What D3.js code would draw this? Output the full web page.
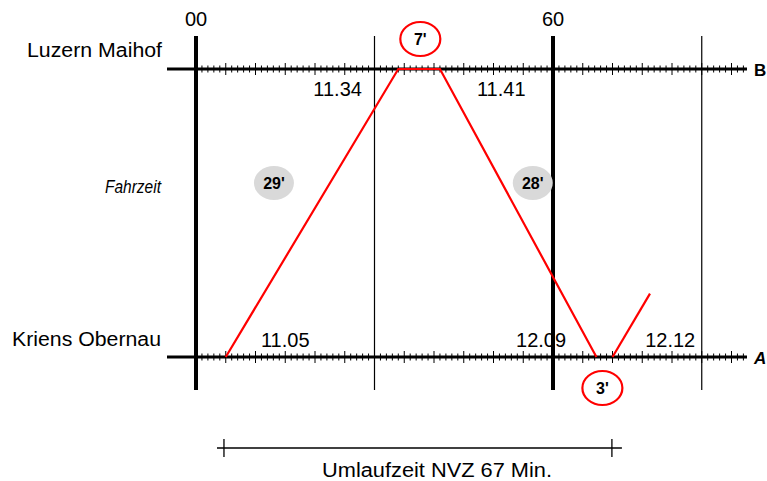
<!DOCTYPE html>
<meta charset="utf-8">
<style>
body { margin: 0; background: #fff; }
svg { font-family: Arial, "Liberation Sans", sans-serif; }
.trip { fill: none; stroke: #ff0000; stroke-width: 2.2px; stroke-linejoin: miter; }
</style>
<svg width="767" height="481"></svg>
<script src="https://cdn.jsdelivr.net/npm/d3@7"></script>
<script>

// stations (0 = A bottom, 1 = B top)
var stations = ["Kriens Obernau", "Luzern Maihof"];
var stationCodes = ["A", "B"];

// minute grid
var hourLabels = ["00", "60"];
var hourMinutes = [0, 60];
var gridMinutes = [0, 30, 60, 85];
var gridThick = [true, false, true, false];

// vehicle run: minutes after 11.00 and station position, one list per drawn stretch
var tripMinutes = [[5, 34, 41, 67.3], [70, 76.3]];
var tripStation = [[0, 1, 1, 0], [0, 0.22]];

// departure / arrival time labels
var timeTexts = ["11.05", "11.34", "11.41", "12.09", "12.12"];
var timeMinutes = [15, 23.8, 51.3, 58, 79.7];
var timeStation = [0, 1, 1, 0, 0];

// travel times (grey) and layovers (red rings)
var runTexts = ["29'", "28'"];
var runMinutes = [13.1, 56.6];
var layoverTexts = ["7'", "3'"];
var layoverMinutes = [37.7, 68.3];
var layoverStation = [1, 0];

// cycle time bar
var cycleFrom = 4.7, cycleTo = 69.9;
var cycleText = "Umlaufzeit NVZ 67 Min.";

var svg = d3.select("svg");

var x = d3.scaleLinear().domain([0, 60]).range([196, 553]);
var y = d3.scaleLinear().domain([0, 1]).range([357, 69]);

// vertical grid
svg.selectAll(".grid")
    .data(gridMinutes)
    .enter().append("line")
    .attr("x1", function(d) { return x(d); })
    .attr("x2", function(d) { return x(d); })
    .attr("y1", 36)
    .attr("y2", 390)
    .attr("stroke", "#000")
    .attr("stroke-width", function(d, i) { return gridThick[i] ? 4 : 1.2; });

svg.selectAll(".hour")
    .data(hourLabels)
    .enter().append("text")
    .attr("x", function(d, i) { return x(hourMinutes[i]); })
    .attr("y", 26)
    .attr("text-anchor", "middle")
    .attr("font-size", 20)
    .text(function(d) { return d; });

// station axes with minute ticks
var tickMinutes = d3.range(0, 93);
[0, 1].forEach(function(s) {
    var g = svg.append("g");
    g.append("line")
        .attr("x1", 167).attr("x2", 747)
        .attr("y1", y(s)).attr("y2", y(s))
        .attr("stroke", "#000").attr("stroke-width", 3);
    g.selectAll("line.tick")
        .data(tickMinutes)
        .enter().append("line")
        .attr("class", "tick")
        .attr("x1", function(d) { return x(d); })
        .attr("x2", function(d) { return x(d); })
        .attr("y1", function(d) { return y(s) - (d % 5 === 0 ? 6 : 3.5); })
        .attr("y2", function(d) { return y(s) + (d % 5 === 0 ? 6 : 3.5); })
        .attr("stroke", "#000")
        .attr("stroke-width", 1);
    g.append("text")
        .attr("x", 754)
        .attr("y", y(s) + 7)
        .attr("font-size", 17)
        .attr("font-weight", "bold")
        .attr("font-style", s === 0 ? "italic" : "normal")
        .text(stationCodes[s]);
});

// station names
svg.append("text")
    .attr("x", 27).attr("y", 57)
    .attr("font-size", 20)
    .attr("textLength", 135)
    .attr("lengthAdjust", "spacingAndGlyphs")
    .text(stations[1]);
svg.append("text")
    .attr("x", 12).attr("y", 346)
    .attr("font-size", 20)
    .attr("textLength", 149)
    .attr("lengthAdjust", "spacingAndGlyphs")
    .text(stations[0]);
svg.append("text")
    .attr("x", 105).attr("y", 193)
    .attr("font-size", 19)
    .attr("font-style", "italic")
    .attr("textLength", 56)
    .attr("lengthAdjust", "spacingAndGlyphs")
    .text("Fahrzeit");

// time labels
svg.selectAll(".time")
    .data(timeTexts)
    .enter().append("text")
    .attr("x", function(d, i) { return x(timeMinutes[i]); })
    .attr("y", function(d, i) { return timeStation[i] === 1 ? y(1) + 27 : y(0) - 10; })
    .attr("text-anchor", "middle")
    .attr("font-size", 20)
    .text(function(d) { return d; });

// grey travel-time badges
var runG = svg.selectAll(".run")
    .data(runTexts)
    .enter().append("g")
    .attr("transform", function(d, i) { return "translate(" + x(runMinutes[i]) + ",183)"; });
runG.append("ellipse").attr("rx", 20).attr("ry", 17).attr("fill", "#d9d9d9");
runG.append("text")
    .attr("y", 6)
    .attr("text-anchor", "middle")
    .attr("font-size", 16)
    .attr("font-weight", "bold")
    .text(function(d) { return d; });

// vehicle run
var line = d3.line()
    .x(function(d) { return x(d[0]); })
    .y(function(d) { return y(d[1]); });
svg.selectAll(".trip")
    .data(tripMinutes.map(function(m, i) { return d3.zip(m, tripStation[i]); }))
    .enter().append("path")
    .attr("class", "trip")
    .attr("d", line);

// layover rings
var layG = svg.selectAll(".lay")
    .data(layoverTexts)
    .enter().append("g")
    .attr("transform", function(d, i) {
        return "translate(" + x(layoverMinutes[i]) + "," + (layoverStation[i] === 1 ? y(1) - 30 : y(0) + 31) + ")";
    });
layG.append("ellipse").attr("rx", 20).attr("ry", 17)
    .attr("fill", "#fff").attr("stroke", "#ff0000").attr("stroke-width", 2.2);
layG.append("text")
    .attr("y", 6)
    .attr("text-anchor", "middle")
    .attr("font-size", 16)
    .attr("font-weight", "bold")
    .text(function(d) { return d; });

// cycle bar
var cy = 448;
svg.append("line")
    .attr("x1", x(cycleFrom) - 7).attr("x2", x(cycleTo) + 10)
    .attr("y1", cy).attr("y2", cy)
    .attr("stroke", "#000").attr("stroke-width", 1.3);
svg.selectAll(".cend")
    .data([cycleFrom, cycleTo])
    .enter().append("line")
    .attr("x1", function(d) { return x(d); })
    .attr("x2", function(d) { return x(d); })
    .attr("y1", cy - 9).attr("y2", cy + 9)
    .attr("stroke", "#000").attr("stroke-width", 1.3);
svg.append("text")
    .attr("x", 322).attr("y", 477)
    .attr("font-size", 20)
    .attr("textLength", 230)
    .attr("lengthAdjust", "spacingAndGlyphs")
    .text(cycleText);

</script>
